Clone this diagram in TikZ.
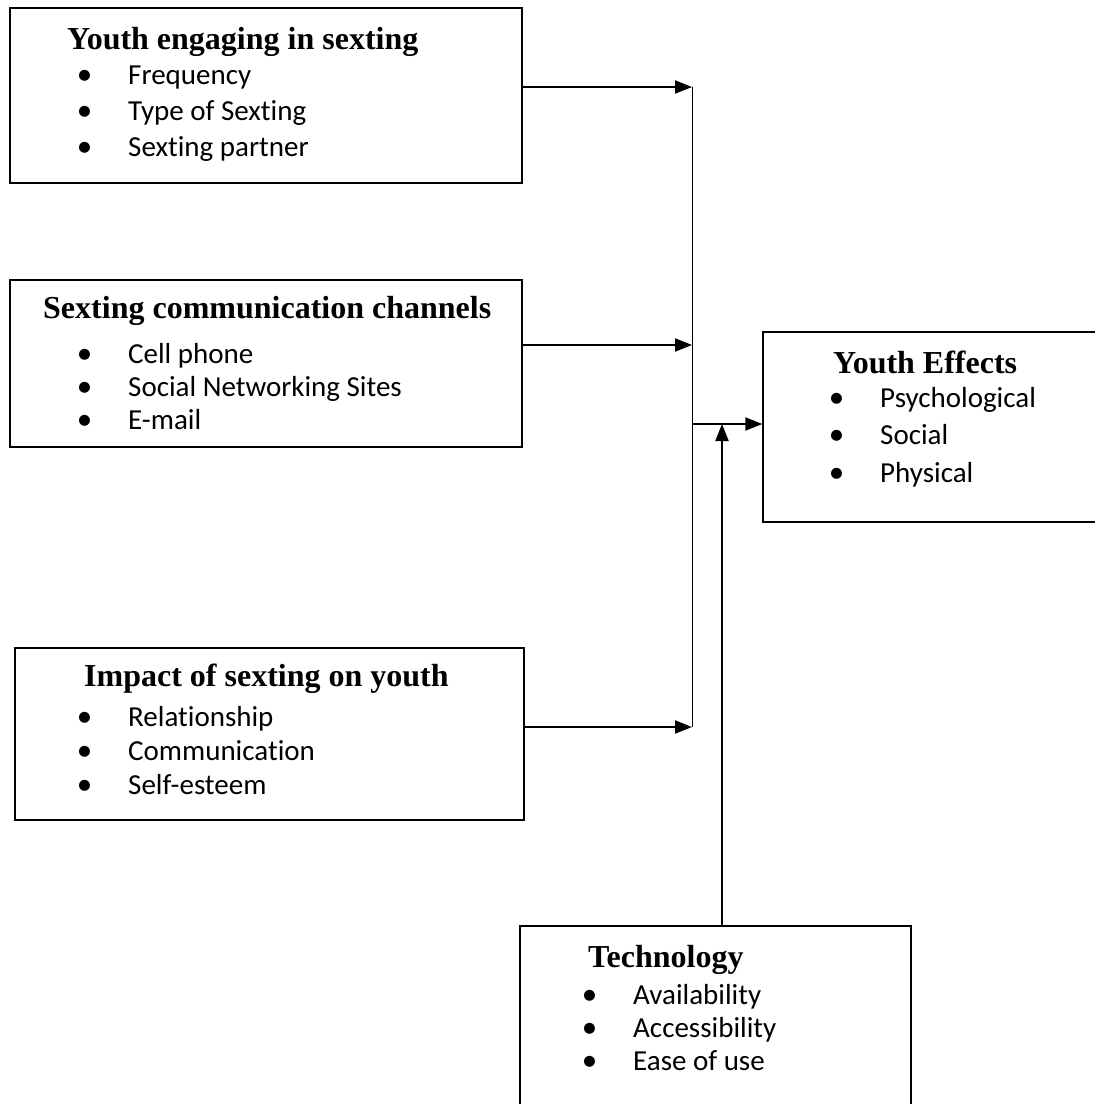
\documentclass[tikz,border=0pt]{standalone}
\usepackage{fontspec}
\setmainfont{Liberation Serif}
\newfontfamily\itemfont[Ligatures=NoCommon]{Carlito}
\usetikzlibrary{arrows.meta}
\newcommand\bulmark{\llap{{\itemfont\fontsize{31}{31}\selectfont •}\hspace{36pt}}}
\begin{document}
\begin{tikzpicture}[x=1pt,y=-1pt,
  box/.style={draw, line width=1.3pt, rectangle, inner sep=0pt},
  ttl/.style={anchor=base west, inner sep=0pt, font=\fontsize{32}{32}\selectfont\bfseries},
  itm/.style={anchor=base west, inner sep=0pt, font=\itemfont\fontsize{29}{29}\selectfont},
  arr/.style={line width=2pt, -{Triangle[length=17pt,width=13pt]}},
  bus/.style={line width=1pt}]
\useasboundingbox (0,0) rectangle (1095,1104);

% boxes (boxes 4 and 5 run past the page edge, as in the reference)
\node[box, minimum width=512pt, minimum height=175pt] (b1) at (266,95.5) {};
\node[box, minimum width=512pt, minimum height=167pt] (b2) at (266,363.5) {};
\node[box, minimum width=509pt, minimum height=172pt] (b3) at (269.5,734) {};
\node[box, minimum width=340pt, minimum height=190pt] (b4) at (933,427) {};
\node[box, minimum width=391pt, minimum height=190pt] (b5) at (715.5,1021) {};

% box 1
\node[ttl] (t1) at (67,49) {Youth engaging in sexting};
\node[itm] (i11) at (128,84) {\bulmark Frequency};
\node[itm] (i12) at (128,120) {\bulmark Type of Sexting};
\node[itm] (i13) at (128,156) {\bulmark Sexting partner};

% box 2
\node[ttl] (t2) at (43,318) {Sexting communication channels};
\node[itm] (i21) at (128,363) {\bulmark Cell phone};
\node[itm] (i22) at (128,396) {\bulmark Social Networking Sites};
\node[itm] (i23) at (128,429) {\bulmark E-mail};

% box 3
\node[ttl] (t3) at (84,686) {Impact of sexting on youth};
\node[itm] (i31) at (128,726) {\bulmark Relationship};
\node[itm] (i32) at (128,760) {\bulmark Communication};
\node[itm] (i33) at (128,794) {\bulmark Self-esteem};

% box 4
\node[ttl] (t4) at (833,373) {Youth Effects};
\node[itm] (i41) at (880,407) {\bulmark Psychological};
\node[itm] (i42) at (880,444) {\bulmark Social};
\node[itm] (i43) at (880,482) {\bulmark Physical};

% box 5
\node[ttl] (t5) at (588,967) {Technology};
\node[itm] (i51) at (633,1004) {\bulmark Availability};
\node[itm] (i52) at (633,1037) {\bulmark Accessibility};
\node[itm] (i53) at (633,1070) {\bulmark Ease of use};

% junction points
\coordinate (j1) at (692,87);
\coordinate (j2) at (692,345);
\coordinate (j3) at (692,727);
\coordinate (j4) at (692,424);
\coordinate (tj) at (722,424);

\draw[bus] (j1) -- (j3);
\draw[arr] (b1.east |- j1) -- (j1);
\draw[arr] (b2.east |- j2) -- (j2);
\draw[arr] (b3.east |- j3) -- (j3);
\draw[arr] (j4) -- (b4.west |- j4);
\draw[arr] (b5.north -| tj) -- (tj);
\end{tikzpicture}
\end{document}
